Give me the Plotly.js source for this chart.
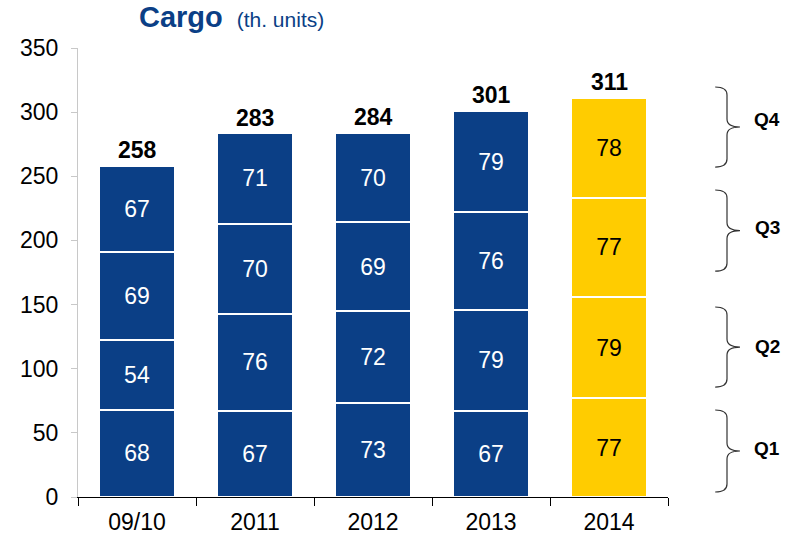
<!DOCTYPE html>
<html>
<head>
<meta charset="utf-8">
<script src="https://cdn.plot.ly/plotly-3.0.1.min.js"></script>
<style>html,body{margin:0;padding:0;background:#fff;}#chart{width:787px;height:541px;}</style>
</head>
<body>
<div id="chart"></div>
<script>
const categories = ["09/10", "2011", "2012", "2013", "2014"];
const q1 = [68, 67, 73, 67, 77];
const q2 = [54, 76, 72, 79, 79];
const q3 = [69, 70, 69, 76, 77];
const q4 = [67, 71, 70, 79, 78];
const totals = [258, 283, 284, 301, 311];
const quarterNames = ["Q1", "Q2", "Q3", "Q4"];
const yTicks = [0, 50, 100, 150, 200, 250, 300, 350];

const BLUE = "#0B3F86";
const YELLOW = "#FFCC00";
const FONT = "Liberation Sans, Arial, sans-serif";

const barColors = categories.map((c, i) => i === categories.length - 1 ? YELLOW : BLUE);
const textColors = categories.map((c, i) => i === categories.length - 1 ? "#000000" : "#FFFFFF");

const series = [q1, q2, q3, q4];
const traces = series.map((vals, k) => ({
  type: "bar",
  name: quarterNames[k],
  x: categories,
  y: vals,
  text: vals.map(String),
  textposition: "inside",
  insidetextanchor: "middle",
  textangle: 0,
  textfont: {family: FONT, size: 23, color: textColors},
  marker: {color: barColors, line: {color: "#FFFFFF", width: 2}},
  hoverinfo: "skip"
}));

// brace placement (layout, in y-axis units)
const braces = [
  {top: 67.8, bot: 3.9, label: 38},
  {top: 148.1, bot: 85.7, label: 117},
  {top: 239.3, bot: 176.1, label: 210},
  {top: 319.6, bot: 257.2, label: 294}
];
const bx0 = 1.080, bxm = 1.100, bxt = 1.122, r = 6.2;
const shapes = braces.map(b => {
  const mid = (b.top + b.bot) / 2;
  const p = `M ${bx0},${b.top} Q ${bxm},${b.top} ${bxm},${b.top - r} ` +
            `L ${bxm},${mid + r} Q ${bxm},${mid} ${bxt},${mid} ` +
            `Q ${bxm},${mid} ${bxm},${mid - r} L ${bxm},${b.bot + r} ` +
            `Q ${bxm},${b.bot} ${bx0},${b.bot}`;
  return {type: "path", xref: "paper", yref: "y", path: p,
          line: {color: "#333333", width: 1.2}};
});

const annotations = [];
categories.forEach((c, i) => {
  annotations.push({
    x: i, y: totals[i], xref: "x", yref: "y",
    text: "<b>" + totals[i] + "</b>", showarrow: false,
    yanchor: "bottom", yshift: 1,
    font: {family: FONT, size: 23, color: "#000000"}
  });
});
braces.forEach((b, k) => {
  annotations.push({
    x: 1.168, y: b.label, xref: "paper", yref: "y",
    text: "<b>" + quarterNames[k] + "</b>", showarrow: false,
    xanchor: "center", yanchor: "middle",
    font: {family: FONT, size: 19, color: "#000000"}
  });
});
annotations.push({
  x: 0.100, y: 1.068, xref: "paper", yref: "paper",
  xanchor: "left", yanchor: "middle", showarrow: false,
  text: "<b>Cargo</b> <span style='font-size:21px'> (th. units)</span>",
  font: {family: FONT, size: 29, color: BLUE}
});

const layout = {
  width: 787, height: 541,
  margin: {l: 78, r: 119, t: 48, b: 44},
  paper_bgcolor: "#FFFFFF", plot_bgcolor: "#FFFFFF",
  barmode: "stack", bargap: 0.356,
  showlegend: false,
  xaxis: {
    type: "category", range: [-0.5, categories.length - 0.5], autorange: false,
    showline: true, linecolor: "#000000", linewidth: 1.2,
    ticks: "outside", tickson: "boundaries", ticklen: 8, tickcolor: "#000000",
    ticklabelstandoff: 4,
    tickfont: {family: FONT, size: 23, color: "#000000"}, tickangle: 0,
    showgrid: false, zeroline: false, fixedrange: true
  },
  yaxis: {
    range: [0, 350], autorange: false, tickvals: yTicks, ticktext: yTicks.map(String),
    showline: true, linecolor: "#C8C8C8", linewidth: 1,
    ticks: "outside", ticklen: 6, tickcolor: "#C8C8C8",
    ticklabelstandoff: 8,
    tickfont: {family: FONT, size: 23, color: "#000000"},
    showgrid: false, zeroline: false, fixedrange: true
  },
  shapes: shapes,
  annotations: annotations
};

Plotly.newPlot("chart", traces, layout, {displayModeBar: false, staticPlot: true});
</script>
</body>
</html>
